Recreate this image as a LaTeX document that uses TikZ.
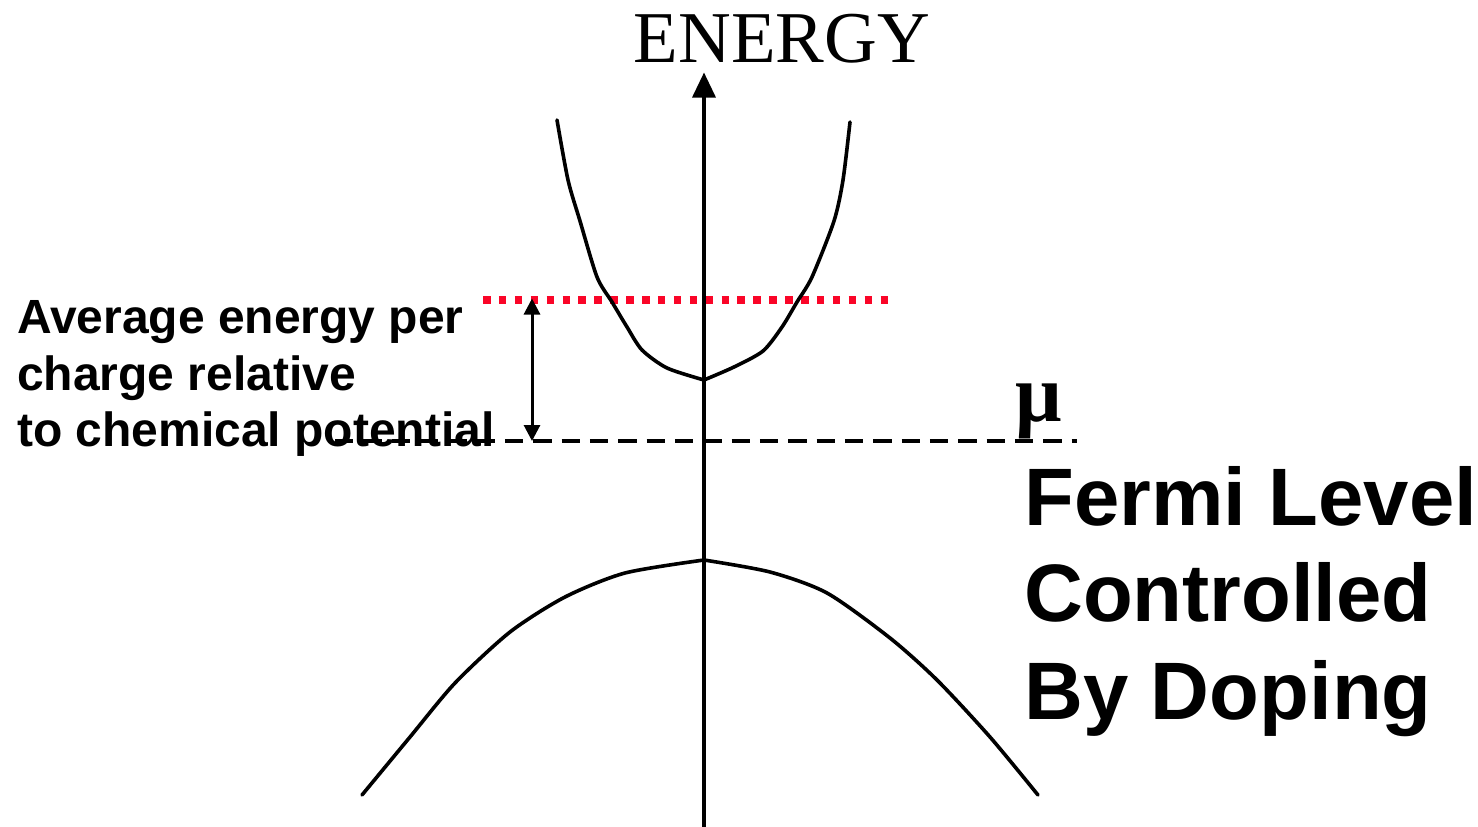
\documentclass[tikz,border=0pt]{standalone}
\usepackage{fontspec}
\setmainfont{Liberation Serif}
\setsansfont{Liberation Sans}
\usetikzlibrary{arrows.meta}
\definecolor{dotred}{RGB}{250,5,40}
\begin{document}
\begin{tikzpicture}[x=1pt,y=-1pt,
  curve/.style={line width=3.6pt, line join=round, line cap=round},
  lbl/.style={font=\sffamily\bfseries\fontsize{48}{57}\selectfont, anchor=base west, inner sep=0pt},
  big/.style={font=\sffamily\bfseries\fontsize{81.5}{97}\selectfont, anchor=base west, inner sep=0pt},
  reddots/.style={draw=dotred, line width=7.5pt, dash pattern=on 7.5pt off 8.4pt},
  blackdash/.style={line width=4pt, dash pattern=on 18.3pt off 10.03pt},
  axisarrow/.style={line width=3.4pt, -{Triangle[width=23pt,length=25pt]}},
  gaparrow/.style={line width=3pt, {Triangle[width=16pt,length=16pt]}-{Triangle[width=16pt,length=16pt]}}
]
\useasboundingbox (0,0) rectangle (1478,827);

% coordinates
\coordinate (axbot) at (704,827);
\coordinate (axtop) at (704,72.5);
\coordinate (rdA) at (483,300);
\coordinate (rdB) at (890,300);
\coordinate (bdA) at (335,441);
\coordinate (bdB) at (1077,441);
\coordinate (avg) at (532,298.5);
\coordinate (chem) at (532,441);

% levels
\draw[blackdash] (bdA) -- (bdB);
\draw[reddots] (rdA) -- (rdB);

% conduction band
\draw[curve] plot[smooth, tension=0.45] coordinates {(557,120) (568,180) (580,221) (597,277) (612,302) (627,327) (642,350) (667,368) (704,380)};
\draw[curve] plot[smooth, tension=0.45] coordinates {(704,380) (734,367) (763,351) (782,327) (797,302) (812,277) (834,221) (843,180) (850,122)};

% valence band
\draw[curve] plot[smooth, tension=0.45] coordinates {(362,795) (410,737) (455,683) (510,632) (565,597) (625,573) (704,560)};
\draw[curve] plot[smooth, tension=0.45] coordinates {(704,560) (770,572) (827,593) (890,638) (937,680) (990,737) (1038,795)};

% axis
\draw[axisarrow] (axbot) -- (axtop);
\node[font=\fontsize{73}{80}\selectfont, anchor=base, inner sep=0pt] (energy) at (782,62) {ENERGY};

% gap arrow
\draw[gaparrow] (avg) -- (chem);

% labels
\node[lbl] (l1) at (17,333) {Average energy per};
\node[lbl] (l2) at (17,390) {charge relative};
\node[lbl] (l3) at (17,446.5) {to chemical potential};

\node[font=\bfseries\fontsize{82}{84}\selectfont, anchor=base west, inner sep=0pt] (mu) at (1015,421) {μ};

\node[big] (f1) at (1024,525) {Fermi Level};
\node[big] (f2) at (1024,621.5) {Controlled};
\node[big] (f3) at (1024,719) {By Doping};
\end{tikzpicture}
\end{document}
